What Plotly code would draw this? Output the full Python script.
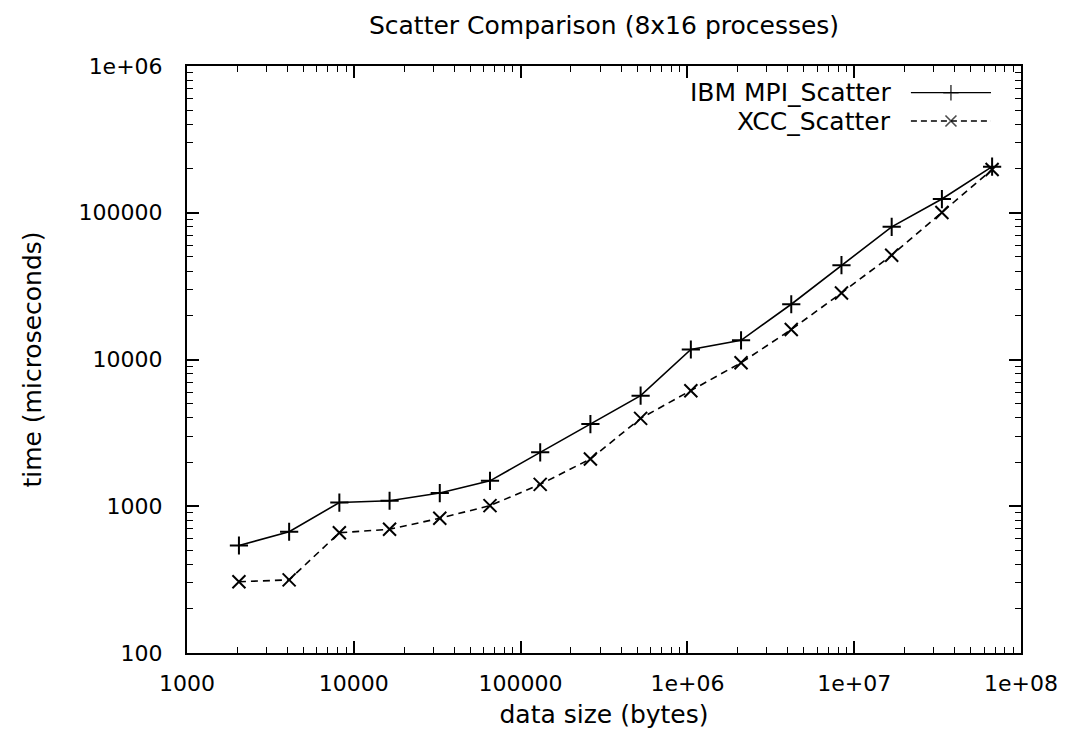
import plotly.graph_objects as go

# ---- data ----
data_size = [2048, 4096, 8192, 16384, 32768, 65536, 131072, 262144, 524288,
             1048576, 2097152, 4194304, 8388608, 16777216, 33554432, 67108864]
ibm_time = [540, 670, 1060, 1090, 1230, 1490, 2330, 3630, 5670,
            11700, 13500, 23800, 43900, 80200, 124000, 206000]
xcc_time = [306, 315, 660, 697, 828, 1010, 1410, 2100, 3970,
            6120, 9500, 16000, 28400, 51400, 100500, 197000]

series_names = ["IBM MPI_Scatter", "XCC_Scatter"]
x_tickvals = [1e3, 1e4, 1e5, 1e6, 1e7, 1e8]
x_ticktext = ["1000", "10000", "100000", "1e+06", "1e+07", "1e+08"]
y_tickvals = [1e2, 1e3, 1e4, 1e5, 1e6]
y_ticktext = ["100", "1000", "10000", "100000", "1e+06"]

FONT = "DejaVu Sans"
BLACK = "black"

def minor_vals(lo_exp, hi_exp):
    return [k * 10 ** e for e in range(lo_exp, hi_exp) for k in range(2, 10)]

fig = go.Figure()

fig.add_trace(go.Scatter(
    x=data_size, y=ibm_time, mode="lines+markers", name=series_names[0],
    line=dict(color=BLACK, width=1.6),
    marker=dict(symbol="cross-thin", size=13, line=dict(color=BLACK, width=2)),
    showlegend=False))
fig.add_trace(go.Scatter(
    x=data_size, y=xcc_time, mode="lines+markers", name=series_names[1],
    line=dict(color=BLACK, width=1.6, dash="7px,5px"),
    marker=dict(symbol="x-thin", size=13, line=dict(color=BLACK, width=2)),
    showlegend=False))

# ---- custom gnuplot-style key (text left, sample right) ----
key_x = [0.868, 0.916, 0.964]
key_rows = [0.9545, 0.9063]
key_styles = [
    (dict(color=BLACK, width=1.3), "cross-thin"),
    (dict(color=BLACK, width=1.3, dash="6px,4px"), "x-thin"),
]
for name, ky, (ln, sym) in zip(series_names, key_rows, key_styles):
    fig.add_trace(go.Scatter(
        x=key_x, y=[ky] * 3, mode="lines+markers", xaxis="x2", yaxis="y2",
        line=ln, marker=dict(symbol=sym, size=[0, 11, 0],
                             line=dict(color=BLACK, width=1.6)),
        showlegend=False, hoverinfo="skip"))
    fig.add_annotation(x=0.847, y=ky, xref="paper", yref="paper",
                       text=name, showarrow=False, xanchor="right",
                       yanchor="middle", font=dict(family=FONT, size=25, color=BLACK))

axis_common = dict(
    type="log", showgrid=False, zeroline=False,
    showline=True, linecolor=BLACK, linewidth=2, mirror="ticks",
    ticks="inside", ticklen=12, tickwidth=1.5, tickcolor=BLACK,
    tickfont=dict(family=FONT, size=22, color=BLACK),
)

fig.update_layout(
    width=1070, height=738,
    margin=dict(l=187, r=47, t=66, b=85),
    paper_bgcolor="white", plot_bgcolor="white",
    title=dict(text="Scatter Comparison (8x16 processes)", x=0.5, xref="paper",
               y=0.966, yanchor="middle", yref="container",
               font=dict(family=FONT, size=25, color=BLACK)),
    xaxis=dict(**axis_common, range=[3, 8], tickvals=x_tickvals, ticktext=x_ticktext,
               ticklabelstandoff=10,
               minor=dict(ticks="inside", ticklen=6, tickwidth=1.2, tickcolor=BLACK,
                          tickvals=minor_vals(3, 8)),
               title=dict(text="data size (bytes)", standoff=10,
                          font=dict(family=FONT, size=25, color=BLACK))),
    yaxis=dict(**axis_common, range=[2, 6], tickvals=y_tickvals, ticktext=y_ticktext,
               ticklabelstandoff=18,
               minor=dict(ticks="inside", ticklen=6, tickwidth=1.2, tickcolor=BLACK,
                          tickvals=minor_vals(2, 6)),
               title=dict(text="time (microseconds)", standoff=30,
                          font=dict(family=FONT, size=25, color=BLACK))),
    xaxis2=dict(overlaying="x", range=[0, 1], visible=False, anchor="y2"),
    yaxis2=dict(overlaying="y", range=[0, 1], visible=False, anchor="x2"),
    showlegend=False,
)

fig.write_html("out.html")
